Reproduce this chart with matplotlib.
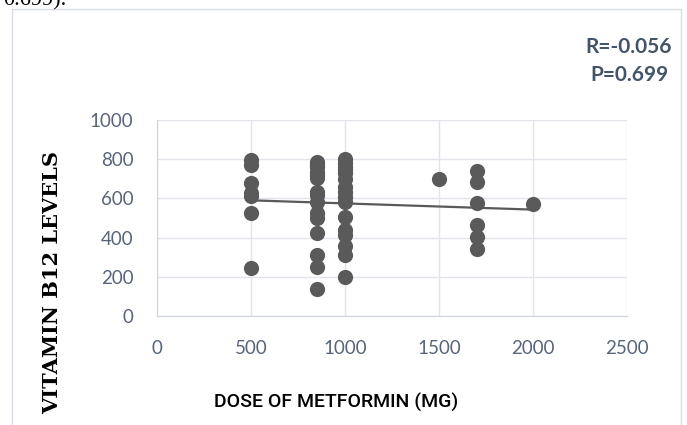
import numpy as np
import matplotlib
matplotlib.use("Agg")
import matplotlib.pyplot as plt
from matplotlib.patches import Rectangle

# Data
dose_500 = [796, 770, 680, 627, 612, 525, 245]
dose_850 = [787, 770, 760, 736, 720, 704, 634, 617, 583, 525, 500, 423, 311, 252, 138]
dose_1000 = [800, 780, 762, 745, 730, 699, 660, 634, 609, 583, 505, 439, 413, 357, 311, 199]
dose_1500 = [700]
dose_1700 = [742, 686, 579, 464, 401, 340]
dose_2000 = [571]

groups = {500: dose_500, 850: dose_850, 1000: dose_1000,
          1500: dose_1500, 1700: dose_1700, 2000: dose_2000}
x = np.concatenate([[k] * len(v) for k, v in groups.items()]).astype(float)
y = np.concatenate([v for v in groups.values()]).astype(float)

x_ticks = [0, 500, 1000, 1500, 2000, 2500]
y_ticks = [0, 200, 400, 600, 800, 1000]
stats_r = "R=-0.056"
stats_p = "P=0.699"

W, H = 687, 425
fig = plt.figure(figsize=(W / 100, H / 100), dpi=100)
fig.patch.set_facecolor("white")

# chart border
fig.patches.append(Rectangle((12 / W, -0.05), (681 - 12) / W, 1.05 - 9 / H,
                             transform=fig.transFigure, fill=False,
                             edgecolor="#d9dde3", linewidth=1.0))

ax = fig.add_axes([157 / W, 1 - 316 / H, (627 - 157) / W, (316 - 120) / H])
ax.set_xlim(0, 2500)
ax.set_ylim(0, 1000)
ax.set_xticks(x_ticks)
ax.set_yticks(y_ticks)
ax.grid(True, color="#e1e5eb", linewidth=1.0)
ax.set_axisbelow(True)
for s in ["top", "right"]:
    ax.spines[s].set_visible(False)
for s in ["left", "bottom"]:
    ax.spines[s].set_color("#d0d5dc")
ax.tick_params(length=0, labelsize=13.5, labelcolor="#586579")
ax.tick_params(axis="y", pad=17)
ax.tick_params(axis="x", pad=17)
for lab in ax.get_xticklabels() + ax.get_yticklabels():
    lab.set_family("Lato")

ax.scatter(x, y, s=120, color="#5a5a5a", zorder=3, linewidths=0)
m, b = np.polyfit(x, y, 1)
xl = np.array([x.min(), x.max()])
ax.plot(xl, m * xl + b, color="#595959", linewidth=1.6, zorder=4)

fig.text(629 / W, 1 - 47 / H, stats_r, ha="center", va="center",
         fontsize=15, fontweight="bold", color="#44546a", family="Lato")
fig.text(629 / W, 1 - 75 / H, stats_p, ha="center", va="center",
         fontsize=15, fontweight="bold", color="#44546a", family="Lato")

fig.text(336 / W, 1 - 402 / H, "DOSE OF METFORMIN (MG)", ha="center", va="center",
         fontsize=14, fontweight="medium", color="black", family="Roboto")
fig.text(52 / W, 1 - 283 / H, "VITAMIN B12 LEVELS", ha="center", va="center",
         rotation=90, fontsize=15, fontweight="bold", color="black",
         family="DejaVu Serif")

fig.text(3 / W, 1 - 5 / H, "0.699).", ha="left", va="baseline",
         fontsize=16, color="black", family="Liberation Serif")

fig.savefig("out.png", dpi=100)
